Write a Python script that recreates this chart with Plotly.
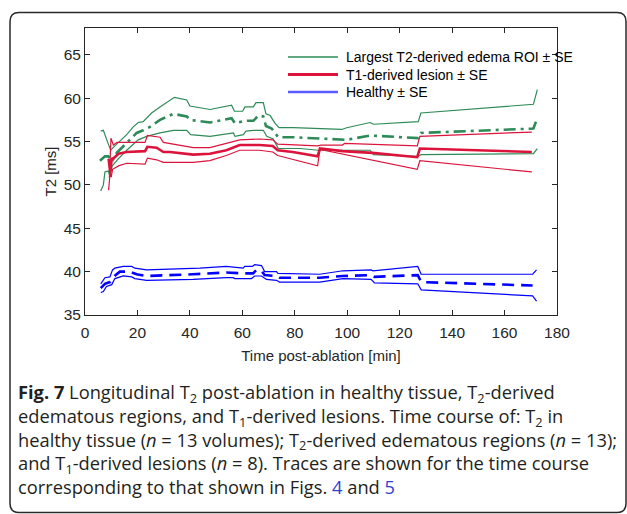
import plotly.graph_objects as go

# ---------------- data ----------------
edema_hi_t = [6.0, 7.0, 8.3, 9.8, 11.4, 15.9, 18.4, 20.3, 22.2, 25.4, 28.6, 34.1, 38.8, 40.0, 47.7, 55.9,
              57.0, 60.1, 61.0, 64.2, 65.2, 68.0, 69.0, 70.6, 72.5, 74.0, 79.5, 97.9, 99.8, 108.7, 110.0,
              127.1, 128.1, 171.0, 172.5]
edema_hi = [56.2, 56.3, 55.2, 54.0, 54.5, 55.8, 56.7, 57.2, 57.3, 58.3, 59.0, 60.1, 59.8, 59.1, 58.7, 59.2,
            58.5, 58.5, 59.0, 59.0, 59.5, 59.5, 58.2, 58.0, 57.1, 56.6, 56.6, 56.4, 56.6, 57.2, 57.0,
            57.3, 58.3, 59.3, 61.0]

edema_mean_t = [5.7, 7.6, 8.9, 10.2, 12.1, 15.9, 19.7, 22.2, 24.8, 28.6, 33.7, 38.8, 40.0, 47.7, 55.9, 57.2,
                61.0, 64.2, 66.1, 68.0, 69.0, 71.2, 73.7, 79.5, 92.2, 99.8, 108.7, 127.1, 128.1, 171.0, 172.5]
edema_mean = [52.8, 53.3, 53.3, 52.7, 53.7, 54.9, 56.0, 56.3, 56.7, 57.5, 58.2, 57.9, 57.5, 57.2, 57.7, 57.1,
              57.4, 57.4, 58.0, 57.9, 56.8, 56.5, 55.5, 55.5, 55.3, 55.2, 55.7, 55.4, 56.0, 56.5, 57.7]

edema_lo_t = [6.0, 7.0, 7.6, 8.9, 9.5, 10.4, 12.7, 15.9, 20.3, 23.5, 28.6, 33.7, 38.8, 40.3, 47.7, 56.6,
              57.2, 60.4, 61.4, 64.2, 68.0, 69.3, 71.8, 73.7, 82.0, 89.0, 108.7, 110.0, 127.1, 128.1,
              171.0, 172.5]
edema_lo = [49.3, 50.0, 51.5, 51.6, 51.0, 52.2, 53.0, 54.0, 55.2, 55.6, 56.0, 56.3, 56.3, 55.8, 55.6, 56.0,
            55.6, 55.8, 56.2, 56.3, 56.3, 55.6, 55.3, 54.2, 54.2, 54.0, 54.0, 53.5, 53.3, 53.5,
            53.6, 54.2]

lesion_hi_t = [9.3, 9.9, 10.8, 12.2, 22.9, 23.8, 28.6, 29.9, 41.3, 47.6, 53.9, 59.0, 66.6, 71.6, 73.5,
               88.7, 90.0, 98.2, 99.0, 126.7, 127.7, 170.4]
lesion_hi = [50.8, 55.4, 54.6, 54.9, 54.9, 55.7, 55.5, 54.9, 54.3, 54.3, 54.8, 55.2, 55.3, 55.2, 54.7,
             54.5, 54.6, 54.6, 54.8, 54.5, 55.6, 56.1]

lesion_mean_t = [9.0, 9.6, 10.2, 11.0, 12.8, 15.9, 22.9, 23.8, 27.3, 28.6, 29.9, 32.4, 41.3, 47.6, 53.9,
                 59.0, 66.6, 71.6, 73.5, 79.2, 88.7, 89.6, 98.2, 109.6, 126.7, 127.7, 170.4]
lesion_mean = [53.0, 51.5, 53.0, 53.1, 53.6, 53.8, 53.9, 54.4, 54.3, 54.0, 53.8, 53.8, 53.5, 53.6, 54.0,
               54.6, 54.6, 54.5, 54.0, 53.8, 53.3, 54.2, 53.9, 53.7, 53.2, 54.2, 53.8]

lesion_lo_t = [9.0, 9.6, 10.0, 10.5, 12.8, 15.9, 22.9, 23.8, 27.3, 29.9, 41.3, 47.6, 53.9, 59.0, 66.6,
               71.6, 73.5, 88.7, 89.6, 126.7, 127.7, 170.4]
lesion_lo = [49.4, 51.5, 50.9, 51.8, 52.2, 52.5, 52.4, 53.1, 52.9, 52.6, 52.6, 52.8, 53.4, 54.0, 54.0,
             53.8, 53.4, 52.2, 54.1, 51.8, 52.8, 51.5]

healthy_hi_t = [6.0, 7.6, 9.5, 10.5, 11.4, 14.6, 17.8, 19.0, 23.5, 32.4, 43.8, 53.9, 60.3, 60.9, 63.8, 64.7,
                67.3, 68.5, 73.0, 73.6, 89.5, 98.4, 109.1, 109.8, 126.9, 128.2, 170.7, 172.2]
healthy_hi = [38.6, 39.3, 39.4, 40.2, 40.4, 40.6, 40.6, 40.4, 40.2, 40.3, 40.4, 40.6, 40.4, 40.6, 40.6, 40.8,
              40.7, 40.0, 40.0, 39.8, 39.7, 40.1, 40.2, 40.1, 40.6, 39.7, 39.7, 40.2]

healthy_mean_t = [6.0, 7.6, 9.5, 10.8, 13.3, 17.1, 19.7, 23.5, 41.2, 53.9, 60.3, 64.1, 65.4, 67.3, 68.5,
                  73.0, 74.2, 89.5, 98.4, 109.1, 110.4, 126.9, 128.2, 170.7]
healthy_mean = [38.1, 38.6, 38.8, 39.4, 40.0, 40.0, 39.7, 39.5, 39.7, 39.9, 39.8, 39.8, 40.2, 40.1, 39.6,
                39.5, 39.3, 39.3, 39.5, 39.6, 39.4, 39.6, 38.8, 38.4]

healthy_lo_t = [6.0, 7.0, 8.2, 10.2, 11.4, 14.6, 17.8, 19.0, 23.5, 41.2, 53.9, 56.5, 57.1, 63.5, 64.7, 67.3,
                69.2, 73.0, 74.2, 89.5, 98.4, 109.1, 110.4, 126.9, 128.2, 170.7, 172.2]
healthy_lo = [37.6, 37.7, 38.3, 38.5, 39.2, 39.5, 39.4, 39.2, 39.0, 39.1, 39.3, 39.3, 39.2, 39.2, 39.5, 39.5,
              39.1, 39.0, 38.8, 38.8, 39.2, 39.1, 38.7, 38.6, 37.9, 37.2, 36.6]

legend_labels = ["Largest T2-derived edema ROI \u00b1 SE", "T1-derived lesion \u00b1 SE", "Healthy \u00b1 SE"]
x_ticks = [0, 20, 40, 60, 80, 100, 120, 140, 160, 180]
y_ticks = [35, 40, 45, 50, 55, 60, 65]

caption = ("<b>Fig. 7</b> Longitudinal T<sub>2</sub> post-ablation in healthy tissue, T<sub>2</sub>-derived<br>"
           "edematous regions, and T<sub>1</sub>-derived lesions. Time course of: T<sub>2</sub> in<br>"
           "healthy tissue (<i>n</i> = 13 volumes); T<sub>2</sub>-derived edematous regions (<i>n</i> = 13);<br>"
           "and T<sub>1</sub>-derived lesions (<i>n</i> = 8). Traces are shown for the time course<br>"
           "corresponding to that shown in Figs. <span style='color:#2f3fd0'>4</span> and "
           "<span style='color:#2f3fd0'>5</span>")

GREEN = "#2E8B57"
RED = "#DC143C"
BLUE = "#0000FF"

# ---------------- figure ----------------
W, H = 627, 514
L, R, T, B = 85, 70, 28, 199
PW, PH = W - L - R, H - T - B


def px(x):
    return (x - L) / PW


def py(y):
    return (H - B - y) / PH


fig = go.Figure()


def add_line(t, v, color, width, dash="solid"):
    fig.add_trace(go.Scatter(x=t, y=v, mode="lines", showlegend=False, hoverinfo="skip",
                             line=dict(color=color, width=width, dash=dash)))


add_line(edema_hi_t, edema_hi, GREEN, 1.2)
add_line(edema_lo_t, edema_lo, GREEN, 1.2)
add_line(edema_mean_t, edema_mean, GREEN, 2.6, "12px,5px,3px,5px")
add_line(lesion_hi_t, lesion_hi, RED, 1.2)
add_line(lesion_lo_t, lesion_lo, RED, 1.2)
add_line(lesion_mean_t, lesion_mean, RED, 2.6)
add_line(healthy_hi_t, healthy_hi, BLUE, 1.2)
add_line(healthy_lo_t, healthy_lo, BLUE, 1.2)
add_line(healthy_mean_t, healthy_mean, BLUE, 2.6, "12px,7px")

# legend (drawn in the upper right of the axes, MATLAB style)
leg_rows = [57, 74.5, 92]
for lab, col, wd, yy in zip(legend_labels, [GREEN, RED, "#5a5aff"], [1.3, 3.0, 2.4], leg_rows):
    fig.add_shape(type="line", xref="paper", yref="paper", x0=px(288), x1=px(338),
                  y0=py(yy), y1=py(yy), line=dict(color=col, width=wd))
    fig.add_annotation(text=lab, xref="paper", yref="paper", x=px(344), y=py(yy),
                       xanchor="left", yanchor="middle", showarrow=False,
                       font=dict(family="Liberation Sans, Arial", size=14, color="black"))

# rounded frame around figure + caption
x0, x1, y0, y1, r = px(10), px(626), py(12.5), py(512.5), 9
rx, ry = r / PW, r / PH
path = (f"M{x0+rx},{y0} L{x1-rx},{y0} Q{x1},{y0} {x1},{y0-ry} "
        f"L{x1},{y1+ry} Q{x1},{y1} {x1-rx},{y1} L{x0+rx},{y1} Q{x0},{y1} {x0},{y1+ry} "
        f"L{x0},{y0-ry} Q{x0},{y0} {x0+rx},{y0} Z")
fig.add_shape(type="path", path=path, xref="paper", yref="paper",
              line=dict(color="#2a2a2a", width=1.5), layer="below")

fig.add_annotation(text=caption, xref="paper", yref="paper", x=px(16), y=py(377),
                   xanchor="left", yanchor="top", align="left", showarrow=False,
                   font=dict(family="Open Sans", size=18.3, color="#231f20"))

# y-axis title
fig.add_annotation(text="T2 [ms]", xref="paper", yref="paper", x=px(50), y=0.5,
                   xanchor="center", yanchor="middle", textangle=-90, showarrow=False,
                   font=dict(family="Liberation Sans, Arial", size=15, color="#262626"))

axis_common = dict(showline=True, linecolor="#262626", linewidth=1, mirror="ticks",
                   ticks="inside", ticklen=5, tickwidth=1, tickcolor="#262626",
                   showgrid=False, zeroline=False,
                   tickfont=dict(family="Liberation Sans, Arial", size=15.5, color="#262626"))

fig.update_layout(
    width=W, height=H,
    margin=dict(l=L, r=R, t=T, b=B),
    paper_bgcolor="white", plot_bgcolor="white",
    showlegend=False,
    xaxis=dict(range=[0, 180], tickvals=x_ticks, ticklabelstandoff=3,
               title=dict(text="Time post-ablation [min]", standoff=10,
                          font=dict(family="Liberation Sans, Arial", size=15, color="#262626")),
               **axis_common),
    yaxis=dict(range=[35, 68.1], tickvals=y_ticks, ticklabelstandoff=0, **axis_common),
)

fig.write_html("out.html")
